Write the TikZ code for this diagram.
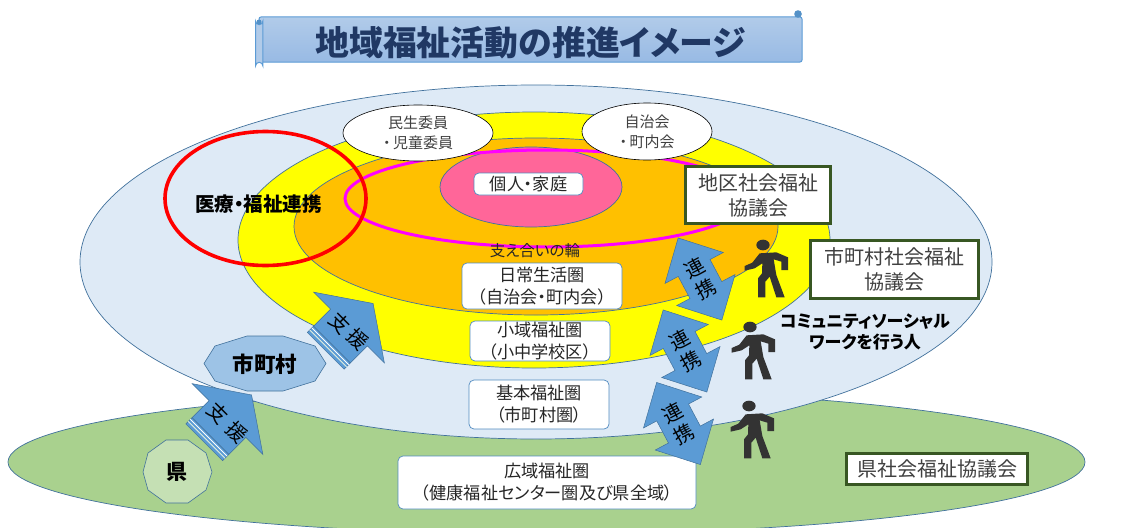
\documentclass[tikz,border=0pt]{standalone}
\usepackage{fontspec}
\setmainfont[RawFeature=+palt]{Noto Sans CJK JP}
\usetikzlibrary{shapes.geometric}
\definecolor{skyfill}{HTML}{DEEAF6}
\definecolor{edgeblue}{HTML}{41719C}
\definecolor{grass}{HTML}{A9D18E}
\definecolor{amber}{HTML}{FFC000}
\definecolor{sun}{HTML}{FFFF00}
\definecolor{ringpink}{HTML}{FF00FF}
\definecolor{ringred}{HTML}{FF0000}
\definecolor{rosepk}{HTML}{FF6699}
\definecolor{arrowblue}{HTML}{5B9BD5}
\definecolor{octblue}{HTML}{9DC3E6}
\definecolor{palegreen}{HTML}{C5E0B4}
\definecolor{darkgreen}{HTML}{385723}
\definecolor{titleblue}{HTML}{203864}
\definecolor{bandtop}{HTML}{B1CBE9}
\definecolor{bandbot}{HTML}{98BAE4}
\definecolor{personc}{HTML}{333333}
\definecolor{txtgray}{HTML}{404040}
\definecolor{txtdark}{HTML}{262626}
\tikzset{x=1pt,y=-1pt,
 zone/.style={ellipse,draw=edgeblue,line width=.7pt,inner sep=0pt},
 labelbox/.style={draw=arrowblue!90!black,fill=white,rounded corners=5pt,line width=.7pt,align=center,font=\fontsize{17.2}{22}\selectfont,text=txtdark,inner sep=0pt},
 greenbox/.style={draw=darkgreen,fill=white,line width=3pt,align=center,font=\fontsize{20}{25}\selectfont,text=txtgray,inner sep=0pt},
 whiteoval/.style={ellipse,draw=black,fill=white,line width=.6pt,align=center,inner sep=0pt,font=\fontsize{15}{20}\selectfont,text=txtgray},
 arrowtxt/.style={font=\fontsize{20}{24}\selectfont,text=black,align=center},
 bluearrow/.style={fill=arrowblue,draw=edgeblue,line width=.5pt,line join=miter}}
\newcommand{\personshape}[2]{%
 \begin{scope}[shift={(#1,#2)},scale=0.3333]
 \fill[personc] (0,0) circle[x radius=20,y radius=16];
 \fill[personc] (-10,25) -- (40,22) -- (75,37) -- (75,75) -- (55,75) -- (55,50) -- (32,43) -- (40,90) -- (65,157) -- (40,157) -- (20,95) -- (7,110) -- (7,157) -- (-15,157) -- (-15,100) -- (-3,85) -- (-2,55) -- (-25,70) -- (-55,77) -- (-55,63) -- (-32,53) -- cycle;
 \end{scope}}
\newcommand{\linkarrow}[3]{%
 \begin{scope}[shift={(#1,#2)},rotate=28]
 \draw[bluearrow] (0,-46.5) -- (33,-12.5) -- (18,-12.5) -- (18,12.5) -- (33,12.5) -- (0,46.5) -- (-33,12.5) -- (-18,12.5) -- (-18,-12.5) -- (-33,-12.5) -- cycle;
 \node[arrowtxt,rotate=28] at (0,0) {#3};
 \end{scope}}
\newcommand{\supportarrow}[2]{%
 \begin{scope}[shift={(#1,#2)},rotate=-45]
 \fill[arrowblue] (-26,24) rectangle (26,33);
 \draw[edgeblue,line width=.4pt] (-26,24) rectangle (26,33);
 \draw[white,line width=.8pt] (-26,26.5) -- (26,26.5);
 \draw[white!70!grass,line width=.8pt] (-26,29.5) -- (26,29.5);
 \draw[bluearrow] (-26,24) -- (26,24) -- (26,0) -- (50,0) -- (0,-34) -- (-50,0) -- (-26,0) -- cycle;
 \end{scope}}
\begin{document}
\begin{tikzpicture}
\useasboundingbox (0,0) rectangle (1131,527);
% title band
\draw[top color=bandtop,bottom color=bandbot,draw=arrowblue,line width=1pt,rounded corners=2pt] (259,17) -- (802,17) -- (802,62) -- (259,62) -- cycle;
\draw[fill=bandtop,draw=arrowblue,line width=1pt] (255.5,21) arc[start angle=180,end angle=0,radius=3.7] -- (262.9,66) arc[start angle=0,end angle=-180,radius=3.7] -- cycle;
\fill[arrowblue!75!edgeblue] (798,14) circle[radius=3.8];
\fill[arrowblue!75!edgeblue] (259,22) circle[radius=2.5];
\node[font=\bfseries\fontsize{33.9}{34}\selectfont,text=titleblue] (title) at (530.5,43) {地域福祉活動の推進イメージ};
% zones
\node[zone,minimum width=1077pt,minimum height=144pt,fill=grass] (pref) at (546.5,462) {};
\node[zone,minimum width=912pt,minimum height=354pt,fill=skyfill] (city) at (536,262) {};
\node[zone,minimum width=592pt,minimum height=256pt,fill=sun] (small) at (534,240) {};
\node[zone,minimum width=484pt,minimum height=177pt,fill=amber] (daily) at (536,226.5) {};
\node[zone,minimum width=182pt,minimum height=80pt,fill=rosepk] (indiv) at (531,187) {};
\node[ellipse,draw=ringpink,line width=3pt,minimum width=404pt,minimum height=97pt,inner sep=0pt] (ring) at (547,198.5) {};
\node[ellipse,draw=ringred,line width=3.6pt,minimum width=201pt,minimum height=134pt,inner sep=0pt] (medical) at (265.5,198.5) {};
\node[font=\bfseries\fontsize{19.5}{20}\selectfont,text=black] (medtxt) at (258.5,204) {医療・福祉連携};
\node[whiteoval,minimum width=150pt,minimum height=56pt] (minsei) at (418,133) {民生委員\\・\,児童委員};
\node[whiteoval,minimum width=130pt,minimum height=57pt] (jichi) at (647,131.5) {自治会\\・\,町内会};
\node[labelbox,minimum width=109pt,minimum height=22pt] (kojin) at (528.5,184) {個人・家庭};
\node[font=\fontsize{15.5}{15.5}\selectfont,text=txtdark] (wa) at (535,251) {支え合いの輪};
\node[labelbox,minimum width=160pt,minimum height=46pt] (nichijo) at (542,286) {日常生活圏\\（自治会・町内会）};
\node[labelbox,minimum width=140pt,minimum height=40pt] (shoiki) at (540,341) {小域福祉圏\\（小中学校区）};
\node[labelbox,minimum width=140pt,minimum height=49pt] (kihon) at (539,404.5) {基本福祉圏\\（市町村圏）};
\node[labelbox,minimum width=298pt,minimum height=53pt] (koiki) at (547,482.5) {広域福祉圏\\（健康福祉センター圏及び県全域）};
\node[greenbox,minimum width=145pt,minimum height=57pt] (chiku) at (758,195) {地区社会福祉\\協議会};
\node[greenbox,minimum width=168pt,minimum height=58pt] (shi) at (894.5,269.5) {市町村社会福祉\\協議会};
\node[greenbox,minimum width=181pt,minimum height=31pt] (ken) at (937,469) {県社会福祉協議会};
% octagons
\draw[fill=octblue,draw=edgeblue,line width=.6pt] (204,363.5) -- (215,346) -- (247,336) -- (283,336) -- (315,346) -- (326,363.5) -- (315,381) -- (283,391) -- (247,391) -- (215,381) -- cycle;
\node[font=\bfseries\fontsize{21.5}{22}\selectfont,text=black] (shichoson) at (265,364) {市町村};
\draw[fill=palegreen,draw=edgeblue,line width=.6pt] (143,472) -- (148,453) -- (166,440) -- (188,440) -- (206,453) -- (212,472) -- (206,490) -- (188,503) -- (166,503) -- (148,490) -- cycle;
\node[font=\bfseries\fontsize{21}{21}\selectfont,text=black] (ken2) at (177,472) {県};
% support arrows
\supportarrow{227.5}{419}
\supportarrow{349}{327.5}
\node[arrowtxt,rotate=-45] (sh1) at (218,413) {支};
\node[arrowtxt,rotate=-45] (sh2) at (237,432) {援};
\node[arrowtxt,rotate=-45] (sh3) at (340,323) {支};
\node[arrowtxt,rotate=-45] (sh4) at (358,339) {援};
% link arrows
\linkarrow{700}{279}{連\\携}
\linkarrow{685}{351}{連\\携}
\linkarrow{678.5}{423.5}{連\\携}
% people
\personshape{763}{245}
\personshape{750}{327}
\personshape{749}{406}
\node[font=\bfseries\fontsize{17}{21}\selectfont,text=black,align=center] (cw) at (865,332) {コミュニティソーシャル\\ワークを行う人};
\end{tikzpicture}
\end{document}
